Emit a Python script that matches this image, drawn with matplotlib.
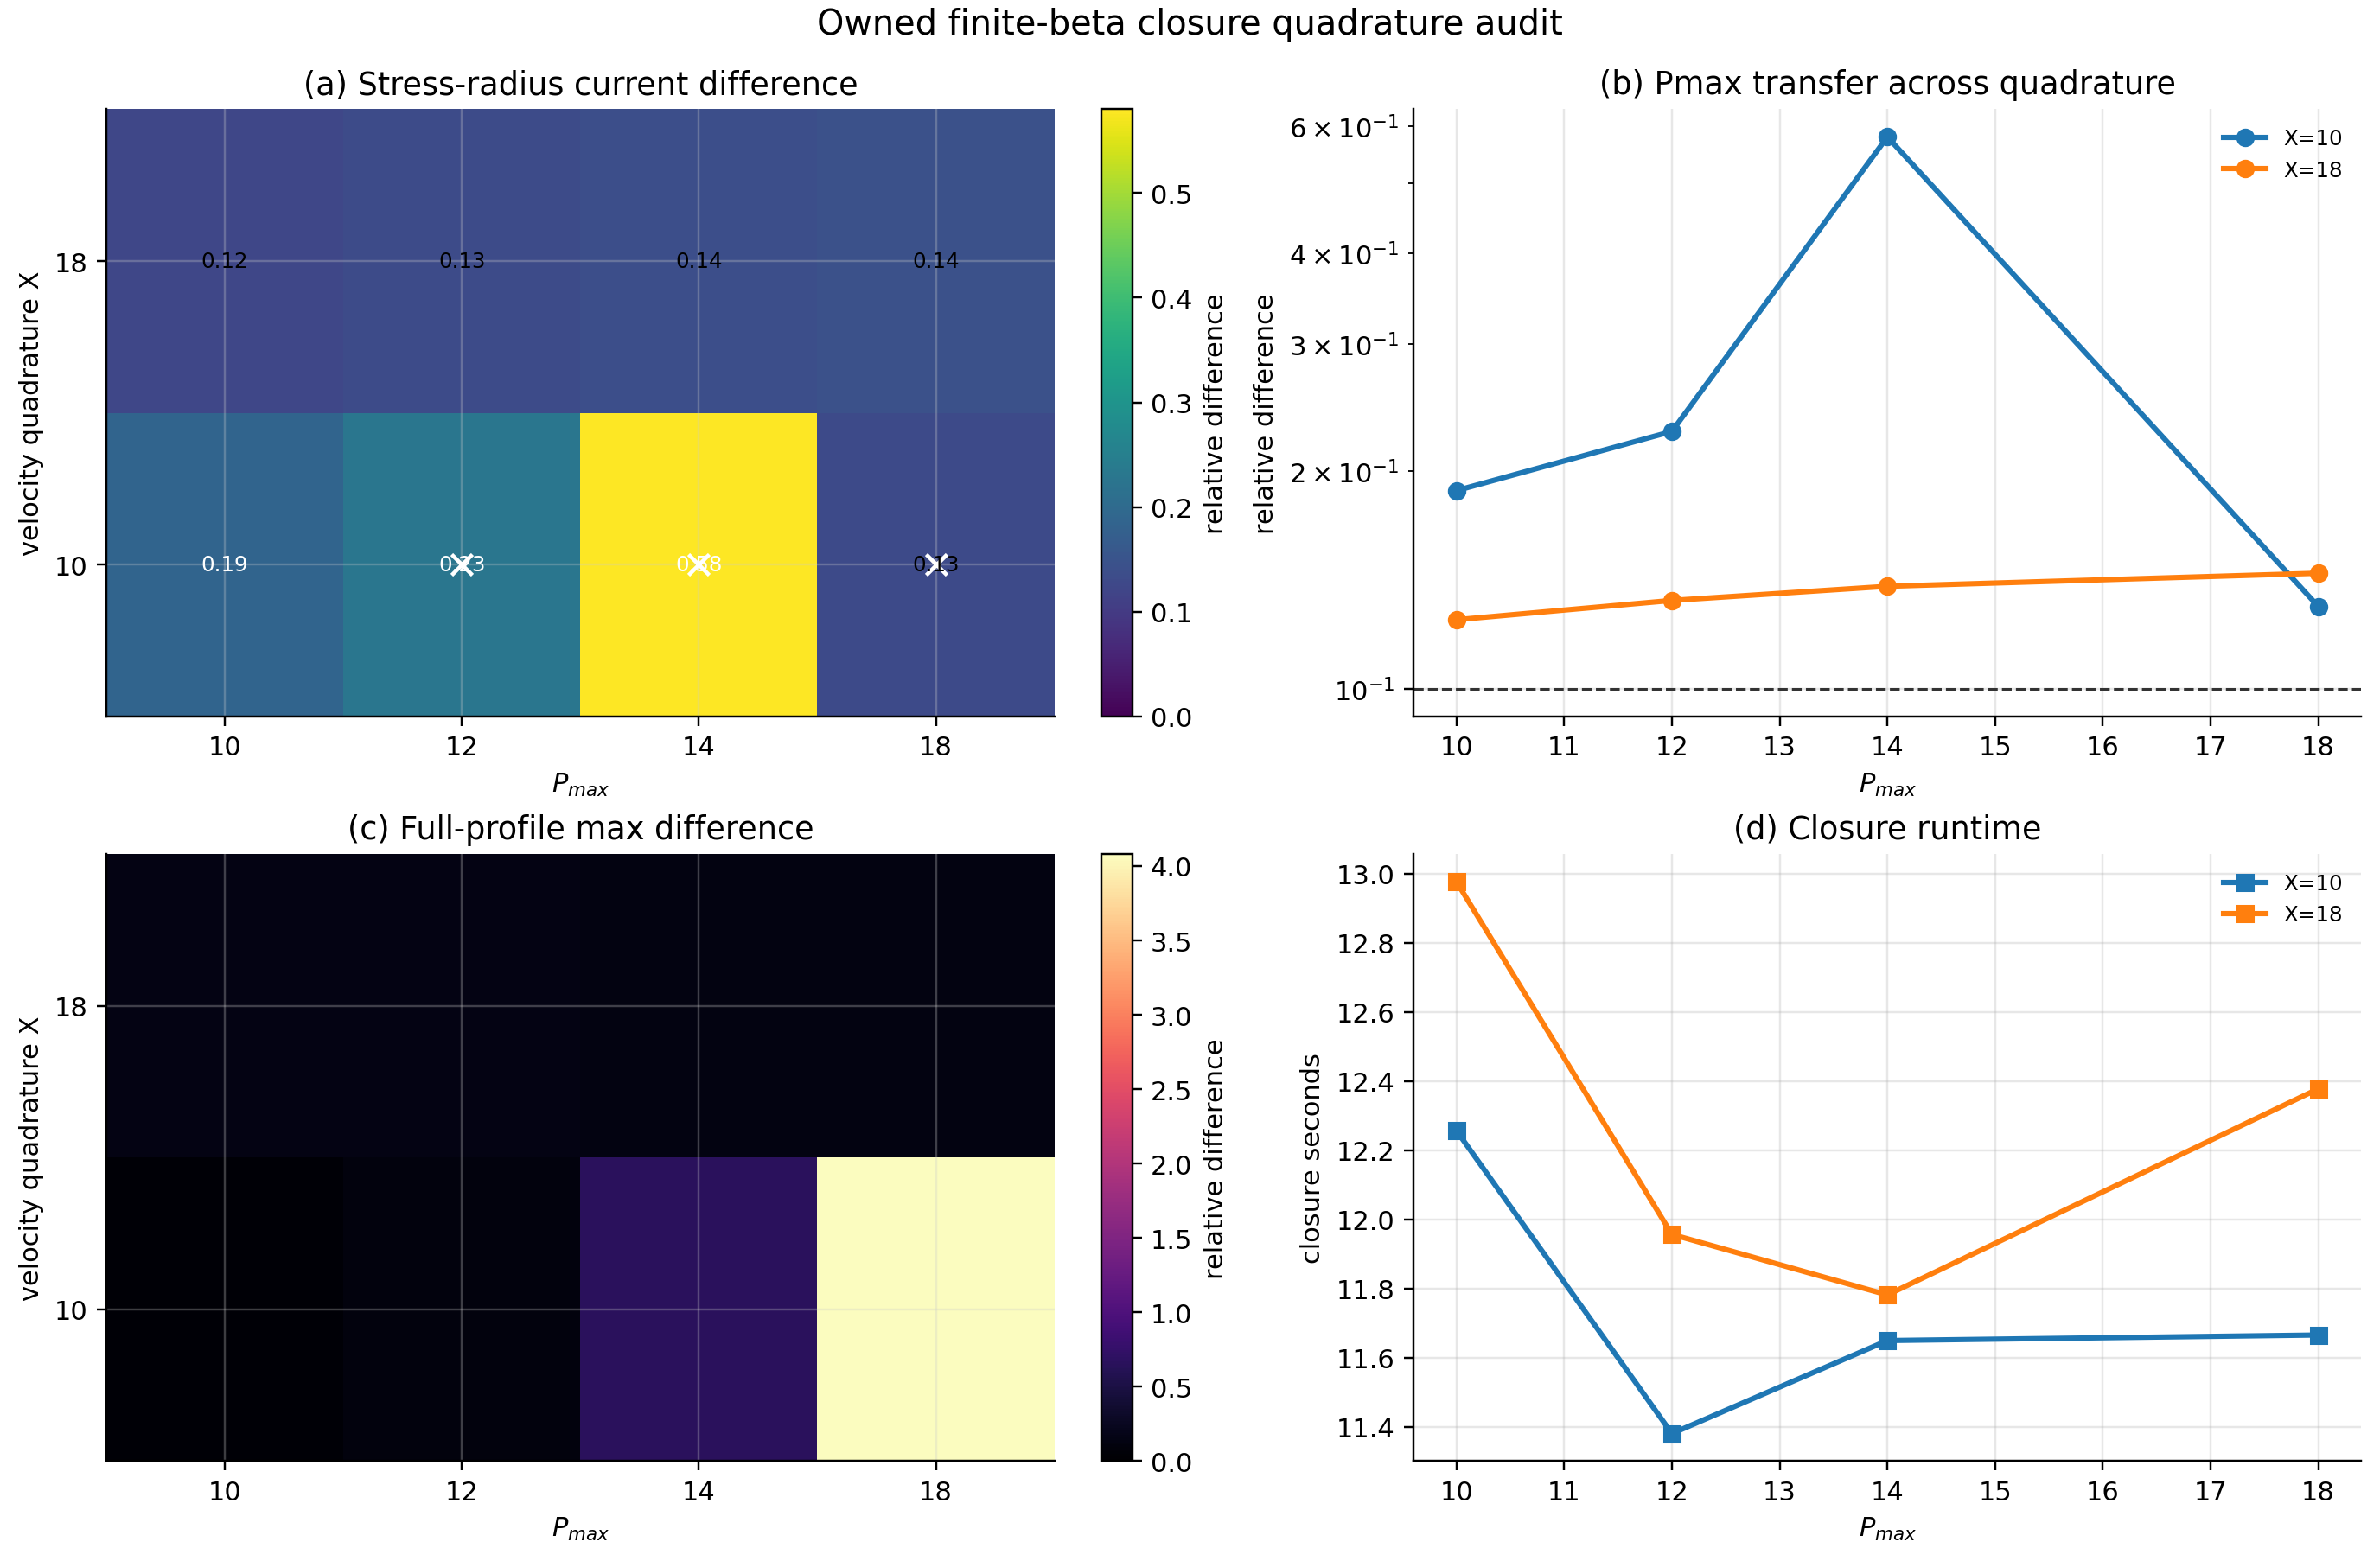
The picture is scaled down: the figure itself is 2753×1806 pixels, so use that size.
import numpy as np
import matplotlib
matplotlib.use("Agg")
from matplotlib import pyplot as plt

# quadrature grid
pmax = [10, 12, 14, 18]
xquad = [10, 18]

# (a) stress-radius current relative difference, rows = X
stress_x10 = [0.188, 0.227, 0.580, 0.130]
stress_x18 = [0.1246, 0.1325, 0.1386, 0.1445]
# cells flagged with a white x
flag_x10 = [False, True, True, True]

# (c) full-profile max relative difference
full_x10 = [0.04, 0.11, 0.66, 4.08]
full_x18 = [0.15, 0.15, 0.14, 0.13]

# (d) closure runtime (s)
run_x10 = [12.257, 11.381, 11.650, 11.666]
run_x18 = [12.977, 11.957, 11.782, 12.378]

plt.rcParams['axes.spines.top'] = False
plt.rcParams['axes.spines.right'] = False

fig, axs = plt.subplots(2, 2, figsize=(2753 / 220, 1807 / 220), dpi=220, layout='constrained')
fig.get_layout_engine().set(rect=(0.0045, 0.007, 0.991, 0.986))
fig.suptitle("Owned finite-beta closure quadrature audit", fontsize=13)

stress = np.array([stress_x10, stress_x18])
full = np.array([full_x10, full_x18])


def heat(ax, data, cmap, title):
	im = ax.imshow(data, origin='lower', aspect='auto', cmap=cmap, vmin=0, vmax=data.max())
	ax.set_xticks(range(len(pmax)))
	ax.set_xticklabels([str(p) for p in pmax])
	ax.set_yticks(range(len(xquad)))
	ax.set_yticklabels([str(x) for x in xquad])
	ax.set_xlabel("$P_{max}$")
	ax.set_ylabel("velocity quadrature X")
	ax.set_title(title, fontsize=12)
	ax.grid(True, color='#cccccc', alpha=0.3, lw=0.8)
	cb = fig.colorbar(im, ax=ax, pad=0.05, aspect=20)
	cb.set_label("relative difference")
	return im


heat(axs[0, 0], stress, 'viridis', "(a) Stress-radius current difference")
for i in range(len(xquad)):
	for j in range(len(pmax)):
		v = stress[i, j]
		axs[0, 0].text(j, i, f"{v:.2f}", ha='center', va='center', fontsize=8,
			color='white' if v > 0.15 else 'black')
for j in range(len(pmax)):
	if flag_x10[j]:
		axs[0, 0].plot(j, 0, 'x', color='white', ms=8, mew=1.5)

heat(axs[1, 0], full, 'magma', "(c) Full-profile max difference")

ax = axs[0, 1]
ax.plot(pmax, stress_x10, marker='o', lw=2, label='X=10')
ax.plot(pmax, stress_x18, marker='o', lw=2, label='X=18')
ax.axhline(0.1, color='#333333', ls='--', lw=1)
ax.set_yscale('log')
ax.set_title("(b) Pmax transfer across quadrature", fontsize=12)
ax.set_xlabel("$P_{max}$")
ax.set_ylabel("relative difference")
ax.grid(True, alpha=0.3)
ax.legend(frameon=False, fontsize=8, loc='upper right')

ax = axs[1, 1]
ax.plot(pmax, run_x10, marker='s', lw=2, label='X=10')
ax.plot(pmax, run_x18, marker='s', lw=2, label='X=18')
ax.set_title("(d) Closure runtime", fontsize=12)
ax.set_xlabel("$P_{max}$")
ax.set_ylabel("closure seconds")
ax.grid(True, alpha=0.3)
ax.legend(frameon=False, fontsize=8, loc='upper right')

fig.savefig("out.png", dpi=220)
